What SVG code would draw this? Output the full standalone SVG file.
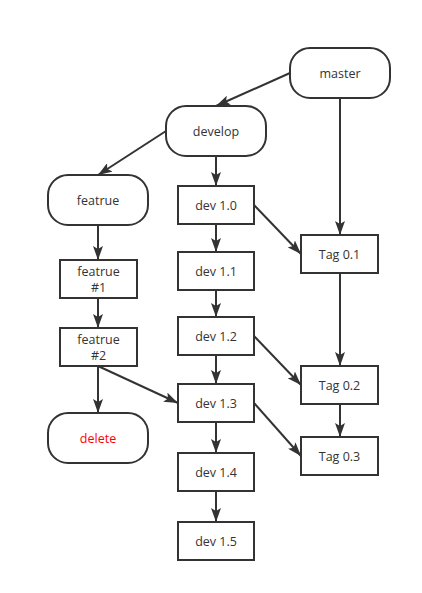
<svg xmlns="http://www.w3.org/2000/svg" width="422" height="593" viewBox="0 0 422 593">
<style>
.n{fill:#fff;stroke:#333;stroke-width:2}
.t{font-family:"Open Sans","Noto Sans","Liberation Sans",sans-serif;font-size:12.5px;fill:#333;text-anchor:middle;dominant-baseline:central}
.e{stroke:#333;stroke-width:2;fill:none;marker-end:url(#a)}
</style>
<defs>
<marker id="a" markerUnits="userSpaceOnUse" viewBox="0 0 14 10" refX="14" refY="5" markerWidth="14" markerHeight="10" orient="auto">
<path d="M0,0 L14,5 L0,10 L3,5 z" fill="#333"/>
</marker>
</defs>
<rect width="422" height="593" fill="#fff"/>
<g id="connectors">
<line class="e" x1="290" y1="73" x2="216" y2="106"/>
<line class="e" x1="166" y1="131" x2="98" y2="175"/>
<line class="e" x1="216" y1="156" x2="216" y2="186"/>
<line class="e" x1="340" y1="98" x2="340" y2="235"/>
<line class="e" x1="254" y1="205" x2="301" y2="254"/>
<line class="e" x1="216" y1="224" x2="216" y2="252"/>
<line class="e" x1="216" y1="290" x2="216" y2="317"/>
<line class="e" x1="216" y1="355" x2="216" y2="384"/>
<line class="e" x1="216" y1="422" x2="216" y2="453"/>
<line class="e" x1="216" y1="491" x2="216" y2="522"/>
<line class="e" x1="254" y1="336" x2="301" y2="385"/>
<line class="e" x1="254" y1="403" x2="301" y2="456"/>
<line class="e" x1="340" y1="273" x2="340" y2="366"/>
<line class="e" x1="340" y1="404" x2="340" y2="437"/>
<line class="e" x1="98" y1="225" x2="98" y2="260"/>
<line class="e" x1="98" y1="298" x2="98" y2="328"/>
<line class="e" x1="98" y1="366" x2="98" y2="413"/>
<line class="e" x1="98" y1="366" x2="178" y2="403"/>
</g>
<g id="master"><rect class="n" x="290" y="48" width="100" height="50" rx="20"/><text class="t" x="340" y="73">master</text></g>
<g id="develop"><rect class="n" x="166" y="106" width="100" height="50" rx="20"/><text class="t" x="216" y="131">develop</text></g>
<g id="featrue"><rect class="n" x="48" y="175" width="100" height="50" rx="20"/><text class="t" x="98" y="200">featrue</text></g>
<g id="featrue1"><rect class="n" x="60" y="260" width="77" height="38"/><text class="t" x="98.5" y="271">featrue</text><text class="t" x="98.5" y="287">#1</text></g>
<g id="featrue2"><rect class="n" x="60" y="328" width="77" height="38"/><text class="t" x="98.5" y="339">featrue</text><text class="t" x="98.5" y="355">#2</text></g>
<g id="delete"><rect class="n" x="48" y="413" width="100" height="50" rx="20"/><text class="t" x="98" y="438" style="fill:#f00">delete</text></g>
<g id="dev10"><rect class="n" x="178" y="186" width="76" height="38"/><text class="t" x="216" y="205">dev 1.0</text></g>
<g id="dev11"><rect class="n" x="178" y="252" width="76" height="38"/><text class="t" x="216" y="271">dev 1.1</text></g>
<g id="dev12"><rect class="n" x="178" y="317" width="76" height="38"/><text class="t" x="216" y="336">dev 1.2</text></g>
<g id="dev13"><rect class="n" x="178" y="384" width="76" height="38"/><text class="t" x="216" y="403">dev 1.3</text></g>
<g id="dev14"><rect class="n" x="178" y="453" width="76" height="38"/><text class="t" x="216" y="472">dev 1.4</text></g>
<g id="dev15"><rect class="n" x="178" y="522" width="76" height="38"/><text class="t" x="216" y="541">dev 1.5</text></g>
<g id="tag01"><rect class="n" x="301" y="235" width="77" height="38"/><text class="t" x="339.5" y="254">Tag 0.1</text></g>
<g id="tag02"><rect class="n" x="301" y="366" width="77" height="38"/><text class="t" x="339.5" y="385">Tag 0.2</text></g>
<g id="tag03"><rect class="n" x="301" y="437" width="77" height="38"/><text class="t" x="339.5" y="456">Tag 0.3</text></g>
</svg>
